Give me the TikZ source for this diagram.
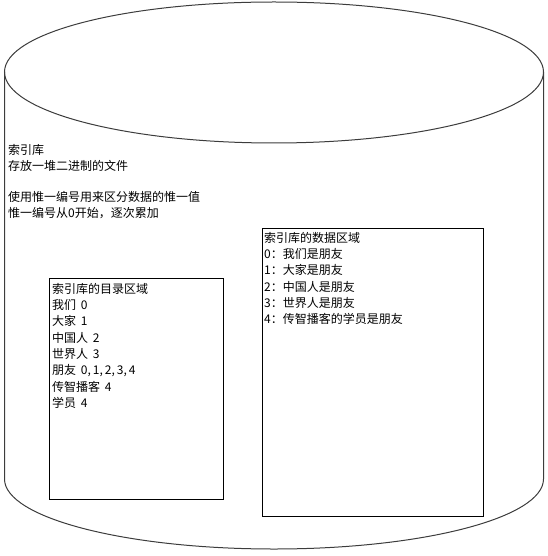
\documentclass[tikz,border=0pt]{standalone}
\usepackage{fontspec}
\newfontfamily\cjk{Noto Sans CJK SC}
\tikzset{
  areabox/.style={draw=black, line width=1pt, inner sep=0pt, anchor=north west},
  areatext/.style={anchor=north west, inner sep=0pt, align=left, font=\cjk\fontsize{12}{16.3}\selectfont}
}
\begin{document}
\begin{tikzpicture}[x=1pt,y=1pt,yscale=-1,xscale=1]
\useasboundingbox (0,0) rectangle (547,556);

%Shape: Can [id:cylTop] 
\draw [color={rgb, 255:red, 60; green, 60; blue, 60 }, line width=1pt]  (4.5,72) .. controls (4.5,32.8) and (125.1,2) .. (274,2) .. controls (422.9,2) and (543.5,32.8) .. (543.5,72) .. controls (543.5,111.2) and (422.9,143) .. (274,143) .. controls (125.1,143) and (4.5,111.2) .. (4.5,72) -- cycle ;
%Shape: Can [id:cylBody] 
\draw [color={rgb, 255:red, 60; green, 60; blue, 60 }, line width=1pt]  (4.5,72) -- (4.5,479) .. controls (4.5,517.7) and (125.1,549) .. (274,549) .. controls (422.9,549) and (543.5,517.7) .. (543.5,479) -- (543.5,72) ;

%Shape: Rectangle [id:dirbox] 
\node [areabox, minimum width=174pt, minimum height=221pt] (dirbox) at (49,278) {};
%Shape: Rectangle [id:databox] 
\node [areabox, minimum width=221pt, minimum height=288pt] (databox) at (262,228) {};

% Text Node
\node [areatext, font=\cjk\fontsize{12}{15.8}\selectfont] (libtext) at (8,144) {索引库\\存放一堆二进制的文件\\[15.8pt]使用惟一编号用来区分数据的惟一值\\惟一编号从0开始，逐次累加};
% Text Node
\node [areatext] (dirtext) at ([xshift=3pt,yshift=5pt]dirbox.north west) {索引库的目录区域\\我们\, 0\\大家\, 1\\中国人\, 2\\世界人\, 3\\朋友\, 0,\,1,\,2,\,3,\,4\\传智播客\, 4\\学员\, 4};
% Text Node
\node [areatext] (datatext) at ([xshift=2pt,yshift=4pt]databox.north west) {索引库的数据区域\\0：我们是朋友\\1：大家是朋友\\2：中国人是朋友\\3：世界人是朋友\\4：传智播客的学员是朋友};

\end{tikzpicture}
\end{document}
